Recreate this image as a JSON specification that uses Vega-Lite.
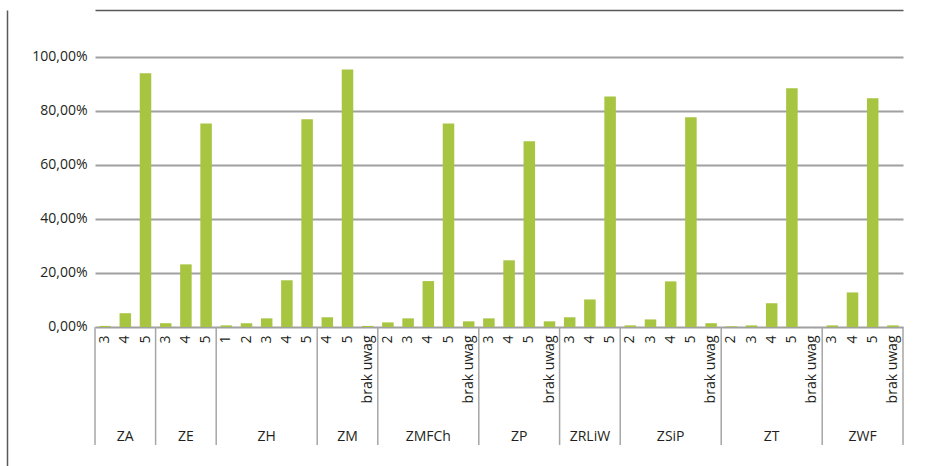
{
  "$schema": "https://vega.github.io/schema/vega-lite/v6.json",
  "width": 808,
  "height": 456,
  "autosize": {"type": "none"},
  "padding": {"left": 95, "top": 10, "right": 29, "bottom": 0},
  "background": "white",
  "config": {"view": {"stroke": null}, "font": "Open Sans"},
  "data": {"values": [
    {"g": "ZA", "id": "ZA|3", "v": 0.4},
    {"g": "ZA", "id": "ZA|4", "v": 5.1},
    {"g": "ZA", "id": "ZA|5", "v": 94.0},
    {"g": "ZE", "id": "ZE|3", "v": 1.4},
    {"g": "ZE", "id": "ZE|4", "v": 23.2},
    {"g": "ZE", "id": "ZE|5", "v": 75.4},
    {"g": "ZH", "id": "ZH|1", "v": 0.6},
    {"g": "ZH", "id": "ZH|2", "v": 1.4},
    {"g": "ZH", "id": "ZH|3", "v": 3.2},
    {"g": "ZH", "id": "ZH|4", "v": 17.3},
    {"g": "ZH", "id": "ZH|5", "v": 76.9},
    {"g": "ZM", "id": "ZM|4", "v": 3.6},
    {"g": "ZM", "id": "ZM|5", "v": 95.4},
    {"g": "ZM", "id": "ZM|brak uwag", "v": 0.4},
    {"g": "ZMFCh", "id": "ZMFCh|2", "v": 1.7},
    {"g": "ZMFCh", "id": "ZMFCh|3", "v": 3.2},
    {"g": "ZMFCh", "id": "ZMFCh|4", "v": 17.0},
    {"g": "ZMFCh", "id": "ZMFCh|5", "v": 75.4},
    {"g": "ZMFCh", "id": "ZMFCh|brak uwag", "v": 2.1},
    {"g": "ZP", "id": "ZP|3", "v": 3.2},
    {"g": "ZP", "id": "ZP|4", "v": 24.7},
    {"g": "ZP", "id": "ZP|5", "v": 68.8},
    {"g": "ZP", "id": "ZP|brak uwag", "v": 2.1},
    {"g": "ZRLiW", "id": "ZRLiW|3", "v": 3.6},
    {"g": "ZRLiW", "id": "ZRLiW|4", "v": 10.2},
    {"g": "ZRLiW", "id": "ZRLiW|5", "v": 85.4},
    {"g": "ZSiP", "id": "ZSiP|2", "v": 0.6},
    {"g": "ZSiP", "id": "ZSiP|3", "v": 2.8},
    {"g": "ZSiP", "id": "ZSiP|4", "v": 16.9},
    {"g": "ZSiP", "id": "ZSiP|5", "v": 77.7},
    {"g": "ZSiP", "id": "ZSiP|brak uwag", "v": 1.4},
    {"g": "ZT", "id": "ZT|2", "v": 0.25},
    {"g": "ZT", "id": "ZT|3", "v": 0.6},
    {"g": "ZT", "id": "ZT|4", "v": 8.8},
    {"g": "ZT", "id": "ZT|5", "v": 88.4},
    {"g": "ZT", "id": "ZT|brak uwag", "v": 0},
    {"g": "ZWF", "id": "ZWF|3", "v": 0.6},
    {"g": "ZWF", "id": "ZWF|4", "v": 12.8},
    {"g": "ZWF", "id": "ZWF|5", "v": 84.7},
    {"g": "ZWF", "id": "ZWF|brak uwag", "v": 0.6}
  ]},
  "transform": [
    {"window": [{"op": "row_number", "as": "rn"}], "groupby": ["g"]},
    {"joinaggregate": [{"op": "count", "as": "n"}], "groupby": ["g"]}
  ],
  "layer": [
    {
      "mark": {"type": "bar", "color": "#a7c540", "width": {"band": 0.57}},
      "encoding": {
        "x": {
          "field": "id", "type": "nominal", "sort": null,
          "scale": {"paddingInner": 0, "paddingOuter": 0},
          "axis": {
            "title": null, "orient": "bottom", "offset": -139,
            "domain": false, "ticks": false, "labelAngle": 270,
            "labelAlign": "right", "labelBaseline": "middle",
            "labelPadding": 8, "labelExpr": "split(datum.value, '|')[1]",
            "labelFontSize": 14, "labelColor": "#231f20",
            "labelOverlap": false, "labelBound": false, "grid": false
          }
        },
        "y": {
          "field": "v", "type": "quantitative",
          "scale": {"domain": [-51.48, 117.4], "nice": false, "zero": false},
          "axis": {
            "title": null, "values": [0, 20, 40, 60, 80, 100, 117.4],
            "offset": 88, "domain": true, "domainColor": "#595959", "domainWidth": 1.5,
            "ticks": false, "tickSize": 0, "labelPadding": -80,
            "labelExpr": "datum.value > 110 ? '' : replace(format(datum.value, '.2f'), '.', ',') + '%'",
            "labelFontSize": 14, "labelColor": "#231f20", "labelOverlap": false,
            "grid": true,
            "gridColor": {"condition": {"test": "datum.value > 110", "value": "#595959"}, "value": "#a0a0a0"},
            "gridWidth": {"condition": {"test": "datum.value > 110", "value": 1.5}, "value": 1.8}
          }
        },
        "y2": {"datum": 0}
      }
    },
    {
      "transform": [{"filter": "datum.rn == 1"}],
      "mark": {"type": "rule", "color": "#a6a6a6", "strokeWidth": 1.5},
      "encoding": {
        "x": {"field": "id", "type": "nominal", "sort": null, "bandPosition": 0},
        "y": {"datum": 0},
        "y2": {"datum": -43.7}
      }
    },
    {
      "transform": [{"filter": "datum.g == 'ZWF' && datum.rn == datum.n"}],
      "mark": {"type": "rule", "color": "#a6a6a6", "strokeWidth": 1.5},
      "encoding": {
        "x": {"field": "id", "type": "nominal", "sort": null, "bandPosition": 1},
        "y": {"datum": 0},
        "y2": {"datum": -43.7}
      }
    },
    {
      "transform": [{"filter": "datum.n % 2 == 1 && datum.rn == (datum.n + 1) / 2"}],
      "mark": {"type": "text", "fontSize": 14, "color": "#231f20", "baseline": "middle"},
      "encoding": {
        "x": {"field": "id", "type": "nominal", "sort": null, "bandPosition": 0.5},
        "y": {"datum": -40.7},
        "text": {"field": "g"}
      }
    },
    {
      "transform": [{"filter": "datum.n % 2 == 0 && datum.rn == datum.n / 2 + 1"}],
      "mark": {"type": "text", "fontSize": 14, "color": "#231f20", "baseline": "middle"},
      "encoding": {
        "x": {"field": "id", "type": "nominal", "sort": null, "bandPosition": 0},
        "y": {"datum": -40.7},
        "text": {"field": "g"}
      }
    }
  ]
}
